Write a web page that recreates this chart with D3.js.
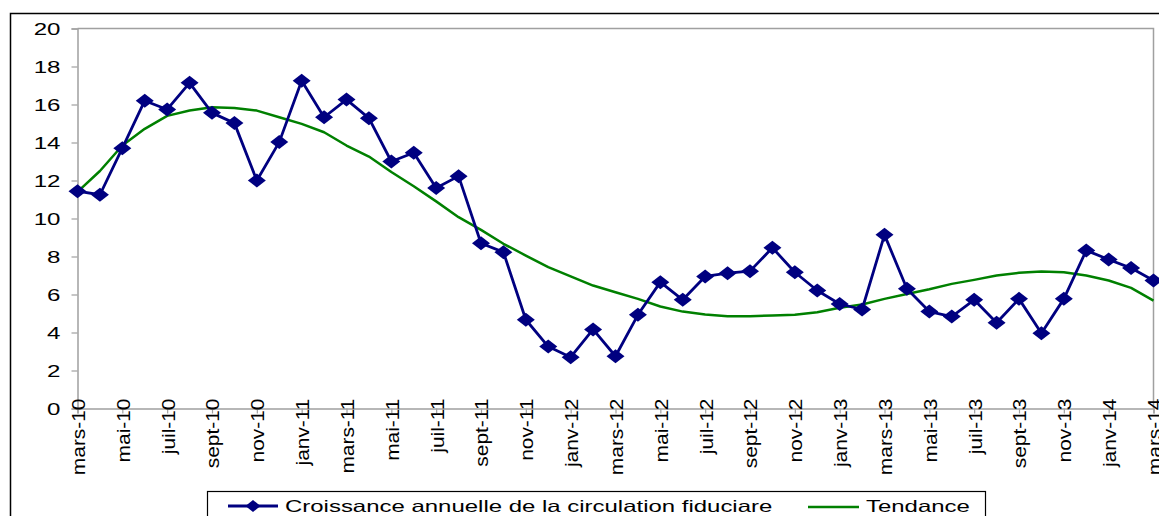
<!DOCTYPE html>
<html>
<head>
<meta charset="utf-8">
<script src="https://cdn.jsdelivr.net/npm/d3@7"></script>
<style>
  html, body { margin: 0; padding: 0; background: #fff; }
  svg { display: block; }
  text { font-family: "Liberation Sans", Arial, sans-serif; fill: #000; }
</style>
</head>
<body>
<svg id="chart" width="1159" height="516"></svg>
<script>
// Months, March 2010 to March 2014
const months = [
  "mars-10","avr-10","mai-10","juin-10","juil-10","août-10","sept-10","oct-10","nov-10","déc-10",
  "janv-11","févr-11","mars-11","avr-11","mai-11","juin-11","juil-11","août-11","sept-11","oct-11","nov-11","déc-11",
  "janv-12","févr-12","mars-12","avr-12","mai-12","juin-12","juil-12","août-12","sept-12","oct-12","nov-12","déc-12",
  "janv-13","févr-13","mars-13","avr-13","mai-13","juin-13","juil-13","août-13","sept-13","oct-13","nov-13","déc-13",
  "janv-14","févr-14","mars-14"
];

// Annual growth of currency in circulation (%)
const croissance = [
  11.44, 11.25, 13.7, 16.2, 15.74, 17.14, 15.56, 15.02, 12.0, 14.02,
  17.25, 15.33, 16.26, 15.28, 13.0, 13.46, 11.6, 12.23, 8.7, 8.23, 4.67, 3.26,
  2.7, 4.16, 2.75, 4.93, 6.65, 5.72, 6.95, 7.12, 7.23, 8.46, 7.17, 6.21,
  5.5, 5.21, 9.14, 6.3, 5.1, 4.84, 5.72, 4.51, 5.77, 3.96, 5.77, 8.32,
  7.84, 7.39, 6.74
];

// Trend component
const tendance = [
  11.4, 12.5, 13.84, 14.72, 15.4, 15.68, 15.86, 15.82, 15.68, 15.33,
  14.98, 14.54, 13.84, 13.26, 12.45, 11.7, 10.9, 10.07, 9.4, 8.67, 8.05, 7.44,
  6.95, 6.47, 6.12, 5.77, 5.37, 5.1, 4.95, 4.86, 4.86, 4.9, 4.93, 5.07,
  5.3, 5.47, 5.77, 6.03, 6.28, 6.56, 6.77, 7.0, 7.14, 7.21, 7.17, 7.0,
  6.74, 6.35, 5.68
];

const yTicks = [0, 2, 4, 6, 8, 10, 12, 14, 16, 18, 20];
const seriesNames = ["Croissance annuelle de la circulation fiduciare", "Tendance"];
const colors = { croissance: "#000080", tendance: "#008000" };

const svg = d3.select("#chart");
const plot = { left: 77.5, right: 1153.5, top: 28.5, bottom: 408.5 };

const x = d3.scalePoint().domain(months).range([plot.left, plot.right]).padding(0);
const y = d3.scaleLinear().domain([0, 20]).range([plot.bottom, plot.top]);

// Outer chart frame
svg.append("rect")
  .attr("x", 10.5).attr("y", 13.5)
  .attr("width", 1300).attr("height", 700)
  .attr("fill", "none").attr("stroke", "#000").attr("stroke-width", 1.5);

// Plot area frame (top and right)
svg.append("path")
  .attr("d", `M${plot.left},${plot.top}H${plot.right}V${plot.bottom}`)
  .attr("fill", "none").attr("stroke", "#a0a0a0").attr("stroke-width", 1.5);

// Y axis
const yAxis = svg.append("g").attr("transform", `translate(${plot.left},0)`)
  .call(d3.axisLeft(y).tickValues(yTicks).tickSize(6).tickFormat(""));
yAxis.select(".domain").attr("stroke", "#a0a0a0").attr("stroke-width", 1.5);
yAxis.selectAll(".tick line").attr("stroke", "#a0a0a0").attr("stroke-width", 1.2);
yAxis.selectAll(".tick").append("text")
  .attr("text-anchor", "end")
  .attr("dy", "0.36em")
  .attr("transform", "translate(-17,0) scale(1.46,1)")
  .style("font-size", "16.5px")
  .text(d => d);

// X axis
const xLabelled = months.filter((m, i) => i % 2 === 0);
const xAxis = svg.append("g").attr("transform", `translate(0,${plot.bottom})`)
  .call(d3.axisBottom(x).tickValues(xLabelled).tickSize(5).tickFormat(""));
xAxis.select(".domain").attr("stroke", "#a0a0a0").attr("stroke-width", 1.5);
xAxis.selectAll(".tick line").attr("stroke", "#a0a0a0").attr("stroke-width", 1.2);
xAxis.selectAll(".tick").append("text")
  .attr("text-anchor", "end")
  .attr("dy", "0.36em")
  .attr("transform", "translate(0,-10) rotate(-90) scale(1.1,1)")
  .style("font-size", "19px")
  .text(d => d);

// Trend line
svg.append("path")
  .datum(tendance)
  .attr("fill", "none")
  .attr("stroke", colors.tendance)
  .attr("stroke-width", 2.5)
  .attr("stroke-linejoin", "round")
  .attr("d", d3.line().x((d, i) => x(months[i])).y(d => y(d)));

// Growth line
svg.append("path")
  .datum(croissance)
  .attr("fill", "none")
  .attr("stroke", colors.croissance)
  .attr("stroke-width", 2.8)
  .attr("stroke-linejoin", "round")
  .attr("d", d3.line().x((d, i) => x(months[i])).y(d => y(d)));

// Diamond markers
const diamond = (w, h) => `M0,${-h / 2}L${w / 2},0L0,${h / 2}L${-w / 2},0Z`;
svg.append("g").selectAll("path")
  .data(croissance)
  .join("path")
  .attr("transform", (d, i) => `translate(${x(months[i])},${y(d)})`)
  .attr("d", diamond(18, 14))
  .attr("fill", colors.croissance);

// Legend
const legend = svg.append("g");
legend.append("rect")
  .attr("x", 207.5).attr("y", 491.5)
  .attr("width", 778).attr("height", 60)
  .attr("fill", "#fff").attr("stroke", "#000").attr("stroke-width", 1.2);

legend.append("line")
  .attr("x1", 228).attr("x2", 278).attr("y1", 506).attr("y2", 506)
  .attr("stroke", colors.croissance).attr("stroke-width", 2.8);
legend.append("path")
  .attr("transform", "translate(253,506)")
  .attr("d", diamond(15, 12))
  .attr("fill", colors.croissance);
legend.append("text")
  .attr("transform", "translate(285,512) scale(1.47,1)")
  .style("font-size", "16.3px")
  .text(seriesNames[0]);

legend.append("line")
  .attr("x1", 808).attr("x2", 859).attr("y1", 507).attr("y2", 507)
  .attr("stroke", colors.tendance).attr("stroke-width", 2.5);
legend.append("text")
  .attr("transform", "translate(866,512) scale(1.47,1)")
  .style("font-size", "16.3px")
  .text(seriesNames[1]);
</script>
</body>
</html>
